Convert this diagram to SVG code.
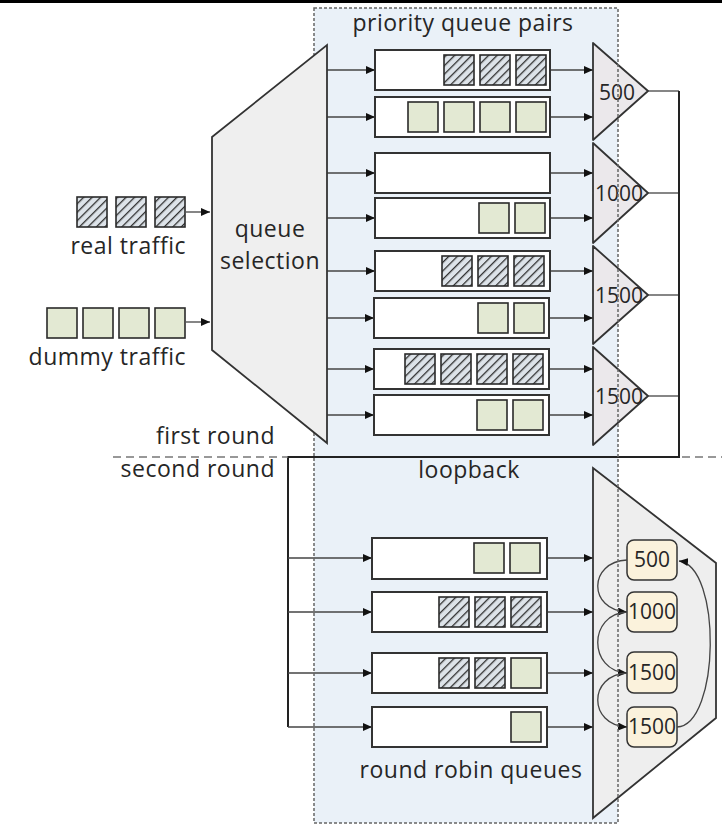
<svg xmlns="http://www.w3.org/2000/svg" width="722" height="826" viewBox="0 0 722 826">
<defs>
<pattern id="hatch" width="6" height="6" patternUnits="userSpaceOnUse" patternTransform="rotate(45)">
<rect width="6" height="6" fill="#dde3e9"/>
<line x1="0" y1="0" x2="0" y2="6" stroke="#2e2e2e" stroke-width="2.6"/>
</pattern>
<marker id="ah" markerWidth="9" markerHeight="8" refX="9" refY="4" orient="auto" markerUnits="userSpaceOnUse">
<path d="M0,0 L9,4 L0,8 z" fill="#111"/>
</marker>
<style>
.t{font-family:"Open Sans","Noto Sans","DejaVu Sans",sans-serif;font-size:23px;letter-spacing:0.5px;fill:#262626}
.n{font-family:"Open Sans","Noto Sans","DejaVu Sans",sans-serif;font-size:21px;fill:#262626}
.q{fill:#fff;stroke:#333;stroke-width:2}
.h{fill:url(#hatch);stroke:#2a2a2a;stroke-width:1.6}
.g{fill:#e3e9d3;stroke:#2a2a2a;stroke-width:1.6}
.c{fill:none;stroke:#444;stroke-width:1.3}
.ca{fill:none;stroke:#444;stroke-width:1.3;marker-end:url(#ah)}
.lp{fill:none;stroke:#222;stroke-width:2}
.tri{fill:#ebe8eb;stroke:#333;stroke-width:1.8;stroke-linejoin:round}
.rb{fill:#fbf2dc;stroke:#333;stroke-width:1.5}
</style>
</defs>
<rect x="0" y="0" width="722" height="826" fill="#fff"/>
<rect x="0" y="0" width="722" height="3" fill="#000"/>
<rect id="region-bg" x="314" y="8" width="304" height="815" fill="#eaf1f8"/>

<g id="connectors">
<line class="ca" x1="186" y1="212" x2="210" y2="212"/>
<line class="ca" x1="186" y1="322" x2="210" y2="322"/>
<line class="ca" x1="327" y1="70" x2="375" y2="70"/>
<line class="ca" x1="327" y1="117" x2="375" y2="117"/>
<line class="ca" x1="327" y1="173" x2="375" y2="173"/>
<line class="ca" x1="327" y1="218" x2="375" y2="218"/>
<line class="ca" x1="327" y1="271" x2="375" y2="271"/>
<line class="ca" x1="327" y1="318" x2="374" y2="318"/>
<line class="ca" x1="327" y1="369" x2="374" y2="369"/>
<line class="ca" x1="327" y1="415" x2="374" y2="415"/>
<line class="ca" x1="550" y1="70" x2="593" y2="70"/>
<line class="ca" x1="550" y1="117" x2="593" y2="117"/>
<line class="ca" x1="550" y1="173" x2="593" y2="173"/>
<line class="ca" x1="550" y1="218" x2="593" y2="218"/>
<line class="ca" x1="550" y1="271" x2="593" y2="271"/>
<line class="ca" x1="549" y1="318" x2="593" y2="318"/>
<line class="ca" x1="549" y1="369" x2="593" y2="369"/>
<line class="ca" x1="549" y1="415" x2="593" y2="415"/>
<line class="c" x1="648" y1="91" x2="679" y2="91"/>
<line class="c" x1="648" y1="193" x2="679" y2="193"/>
<line class="c" x1="648" y1="295" x2="679" y2="295"/>
<line class="c" x1="648" y1="396" x2="679" y2="396"/>
<path class="lp" d="M679,91 V457 H288 V727"/>
<line class="ca" x1="288" y1="558" x2="372" y2="558"/>
<line class="ca" x1="288" y1="612" x2="372" y2="612"/>
<line class="ca" x1="288" y1="673" x2="372" y2="673"/>
<line class="ca" x1="288" y1="727" x2="372" y2="727"/>
<line class="ca" x1="547" y1="558" x2="593" y2="558"/>
<line class="ca" x1="547" y1="612" x2="593" y2="612"/>
<line class="ca" x1="547" y1="673" x2="593" y2="673"/>
<line class="ca" x1="547" y1="727" x2="593" y2="727"/>
</g>

<line id="round-separator-left" x1="113" y1="457" x2="288" y2="457" stroke="#777" stroke-width="1.5" stroke-dasharray="8,5"/>
<line id="round-separator-right" x1="682" y1="457" x2="722" y2="457" stroke="#777" stroke-width="1.5" stroke-dasharray="8,5"/>

<g id="real-traffic">
<rect class="h" x="77" y="197" width="30" height="30"/>
<rect class="h" x="116" y="197" width="30" height="30"/>
<rect class="h" x="155" y="197" width="30" height="30"/>
<text class="t" x="186" y="254" text-anchor="end">real traffic</text>
</g>
<g id="dummy-traffic">
<rect class="g" x="47" y="308" width="30" height="30"/>
<rect class="g" x="83" y="308" width="30" height="30"/>
<rect class="g" x="119" y="308" width="30" height="30"/>
<rect class="g" x="155" y="308" width="30" height="30"/>
<text class="t" x="186" y="365" text-anchor="end">dummy traffic</text>
</g>

<text id="label-first-round" class="t" x="275" y="444" text-anchor="end">first round</text>
<text id="label-second-round" class="t" x="275" y="477" text-anchor="end">second round</text>
<text id="label-priority" class="t" x="463" y="31" text-anchor="middle">priority queue pairs</text>
<text id="label-loopback" class="t" x="469" y="478" text-anchor="middle">loopback</text>
<text id="label-rr" class="t" x="471" y="778" text-anchor="middle">round robin queues</text>

<g id="pq1"><rect class="q" x="375" y="50" width="175" height="40"/>
<rect class="h" x="444" y="55" width="30" height="30"/><rect class="h" x="480" y="55" width="30" height="30"/><rect class="h" x="516" y="55" width="30" height="30"/></g>
<g id="pq2"><rect class="q" x="375" y="97" width="175" height="40"/>
<rect class="g" x="408" y="102" width="30" height="30"/><rect class="g" x="444" y="102" width="30" height="30"/><rect class="g" x="480" y="102" width="30" height="30"/><rect class="g" x="516" y="102" width="30" height="30"/></g>
<g id="pq3"><rect class="q" x="375" y="153" width="175" height="40"/></g>
<g id="pq4"><rect class="q" x="375" y="198" width="175" height="40"/>
<rect class="g" x="479" y="203" width="30" height="30"/><rect class="g" x="515" y="203" width="30" height="30"/></g>
<g id="pq5"><rect class="q" x="375" y="251" width="175" height="40"/>
<rect class="h" x="442" y="256" width="30" height="30"/><rect class="h" x="478" y="256" width="30" height="30"/><rect class="h" x="514" y="256" width="30" height="30"/></g>
<g id="pq6"><rect class="q" x="374" y="298" width="175" height="40"/>
<rect class="g" x="478" y="303" width="30" height="30"/><rect class="g" x="514" y="303" width="30" height="30"/></g>
<g id="pq7"><rect class="q" x="374" y="349" width="175" height="40"/>
<rect class="h" x="405" y="354" width="30" height="30"/><rect class="h" x="441" y="354" width="30" height="30"/><rect class="h" x="477" y="354" width="30" height="30"/><rect class="h" x="513" y="354" width="30" height="30"/></g>
<g id="pq8"><rect class="q" x="374" y="395" width="175" height="40"/>
<rect class="g" x="477" y="400" width="30" height="30"/><rect class="g" x="513" y="400" width="30" height="30"/></g>

<g id="mux-500"><path class="tri" d="M593,43 L648,91 L593,140 Z"/><text class="n" x="617" y="100" text-anchor="middle">500</text></g>
<g id="mux-1000"><path class="tri" d="M593,143 L648,193 L593,243 Z"/><text class="n" x="619" y="201" text-anchor="middle">1000</text></g>
<g id="mux-1500a"><path class="tri" d="M593,246 L648,295 L593,344 Z"/><text class="n" x="619" y="303" text-anchor="middle">1500</text></g>
<g id="mux-1500b"><path class="tri" d="M593,347 L648,396 L593,445 Z"/><text class="n" x="619" y="404" text-anchor="middle">1500</text></g>

<g id="rr1"><rect class="q" x="372" y="538" width="175" height="41"/>
<rect class="g" x="474" y="543" width="30" height="30"/><rect class="g" x="510" y="543" width="30" height="30"/></g>
<g id="rr2"><rect class="q" x="372" y="592" width="175" height="40"/>
<rect class="h" x="439" y="597" width="30" height="30"/><rect class="h" x="475" y="597" width="30" height="30"/><rect class="h" x="511" y="597" width="30" height="30"/></g>
<g id="rr3"><rect class="q" x="372" y="653" width="175" height="40"/>
<rect class="h" x="439" y="658" width="30" height="30"/><rect class="h" x="475" y="658" width="30" height="30"/><rect class="g" x="511" y="658" width="30" height="30"/></g>
<g id="rr4"><rect class="q" x="372" y="707" width="175" height="40"/>
<rect class="g" x="511" y="712" width="30" height="30"/></g>

<g id="rr-scheduler">
<path d="M593,468 L716,563 L716,718 L593,818 Z" fill="#eeeeee" stroke="#333" stroke-width="1.8"/>
<g id="rr-box-500"><rect class="rb" x="627" y="540" width="50" height="40" rx="7"/><text class="n" x="652" y="567" text-anchor="middle">500</text></g>
<g id="rr-box-1000"><rect class="rb" x="627" y="592" width="50" height="40" rx="7"/><text class="n" x="652" y="619" text-anchor="middle">1000</text></g>
<g id="rr-box-1500a"><rect class="rb" x="627" y="652" width="50" height="41" rx="7"/><text class="n" x="652" y="680" text-anchor="middle">1500</text></g>
<g id="rr-box-1500b"><rect class="rb" x="627" y="707" width="50" height="40" rx="7"/><text class="n" x="652" y="734" text-anchor="middle">1500</text></g>
<path class="ca" d="M627,560 C588,562 588,610 627,612"/>
<path class="ca" d="M627,612 C588,614 588,671 627,673"/>
<path class="ca" d="M627,673 C588,675 588,725 627,727"/>
<path class="ca" d="M677,727 C720,725 722,566 679,561"/>
</g>

<rect id="region-border" x="314" y="8" width="304" height="815" fill="none" stroke="#666" stroke-width="1.5" stroke-dasharray="3,2"/>

<g id="queue-selection">
<path d="M212,137 L327,45 L327,443 L212,350 Z" fill="#efefef" stroke="#333" stroke-width="1.8"/>
<text class="t" x="270" y="237" text-anchor="middle">queue</text>
<text class="t" x="270" y="269" text-anchor="middle">selection</text>
</g>
</svg>
